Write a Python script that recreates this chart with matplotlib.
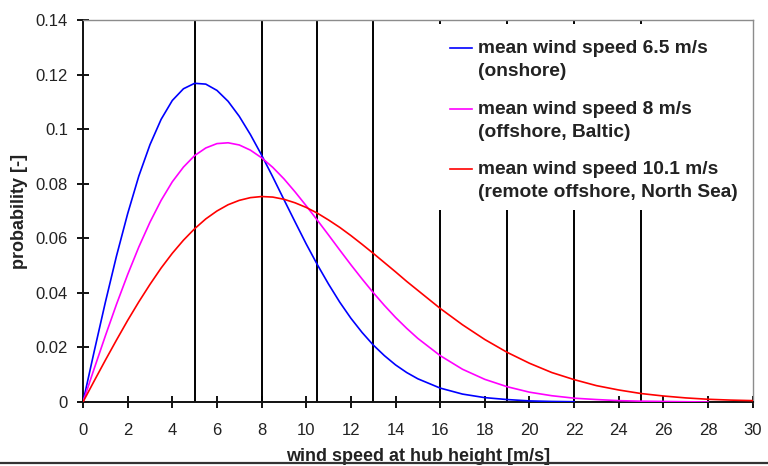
import numpy as np
import matplotlib
matplotlib.use("Agg")
import matplotlib.pyplot as plt
from matplotlib.lines import Line2D
from matplotlib.patches import Rectangle
from matplotlib.legend_handler import HandlerLine2D

plt.rcParams["font.family"] = ["Liberation Sans", "DejaVu Sans"]
plt.rcParams["font.size"] = 12

# wind speed [m/s]: 0.5 steps up to 14.5, then 1 m/s steps
speed_on = np.concatenate([np.arange(0, 15, 0.5), np.arange(15, 23)])
prob_on = [0, 0.0185, 0.0365, 0.0535, 0.0690, 0.0828, 0.0943, 0.1036, 0.1105, 0.1148,
           0.1168, 0.1165, 0.1142, 0.1102, 0.1047, 0.0980, 0.0905, 0.0825, 0.0742, 0.0660,
           0.0579, 0.0503, 0.0432, 0.0366, 0.0307, 0.0255, 0.0209, 0.0170, 0.0136, 0.0108,
           0.0085, 0.0051, 0.0029, 0.0016, 0.0009, 0.0004, 0.0002, 0.0001]

speed_baltic = np.concatenate([np.arange(0, 15, 0.5), np.arange(15, 29)])
prob_baltic = [0, 0.0122, 0.0242, 0.0358, 0.0467, 0.0568, 0.0659, 0.0739, 0.0807, 0.0861,
               0.0903, 0.0931, 0.0947, 0.0950, 0.0942, 0.0923, 0.0895, 0.0860, 0.0818, 0.0770,
               0.0719, 0.0666, 0.0612, 0.0557, 0.0503, 0.0451, 0.0401, 0.0354, 0.0310, 0.0270,
               0.0233, 0.0170, 0.0120, 0.0083, 0.0056, 0.0036, 0.0023, 0.0014, 0.0009,
               0.0005, 0.0003, 0.0002, 0.0001, 0.0]

speed_north = np.concatenate([np.arange(0, 15, 0.5), np.arange(15, 31)])
prob_north = [0, 0.0077, 0.0153, 0.0227, 0.0299, 0.0367, 0.0431, 0.0491, 0.0545, 0.0593,
              0.0635, 0.0671, 0.0700, 0.0723, 0.0739, 0.0749, 0.0753, 0.0751, 0.0743, 0.0730,
              0.0713, 0.0692, 0.0667, 0.0640, 0.0610, 0.0578, 0.0545, 0.0511, 0.0477, 0.0442,
              0.0409, 0.0343, 0.0283, 0.0229, 0.0182, 0.0142, 0.0108, 0.0082, 0.0060, 0.0044,
              0.0031, 0.0022, 0.0015, 0.0010, 0.0007, 0.0005]

labels = ["mean wind speed 6.5 m/s\n(onshore)",
          "mean wind speed 8 m/s\n(offshore, Baltic)",
          "mean wind speed 10.1 m/s\n(remote offshore, North Sea)"]
colors = ["#0000ff", "#ff00ff", "#ff0000"]

# vertical reference lines
marker_speeds = [5, 8, 10.5, 13, 16, 19, 22, 25]

xticks = np.arange(0, 31, 2)
yticks = [0, 0.02, 0.04, 0.06, 0.08, 0.1, 0.12, 0.14]
yticklabels = ["0", "0.02", "0.04", "0.06", "0.08", "0.1", "0.12", "0.14"]


def lift_handle(legline, orig):
    # put the legend line next to the first line of the two-line label
    legline.update_from(orig)
    legline.set_ydata(np.asarray(legline.get_ydata()) + 8.6)


fig = plt.figure(figsize=(7.68, 4.66), dpi=100)
ax = fig.add_axes([83/768, 1-402/466, 669.7/768, 382/466])

for v in marker_speeds:
    ax.axvline(v, color="black", lw=1.4, zorder=1)

# white box behind the legend hides the upper part of the lines
ax.add_patch(Rectangle((0.511, 0.503), 0.486, 0.487, transform=ax.transAxes,
                       facecolor="white", edgecolor="none", zorder=2))

ax.plot(speed_on, prob_on, color=colors[0], lw=1.2, label=labels[0], zorder=3)
ax.plot(speed_baltic, prob_baltic, color=colors[1], lw=1.2, label=labels[1], zorder=3)
ax.plot(speed_north, prob_north, color=colors[2], lw=1.2, label=labels[2], zorder=3)

ax.set_xlim(0, 30)
ax.set_ylim(0, 0.14)
ax.set_xticks(xticks)
ax.set_yticks(yticks)
ax.set_yticklabels(yticklabels)
ax.tick_params(direction="inout", length=8.6, width=1.3, colors="black", labelcolor="#222222")
ax.tick_params(axis="x", pad=11)
ax.tick_params(axis="y", pad=6.5)

for s in ["left", "bottom"]:
    ax.spines[s].set_linewidth(1.4)
    ax.spines[s].set_color("#111111")
for s in ["top", "right"]:
    ax.spines[s].set_linewidth(1.0)
    ax.spines[s].set_color("#8c8c8c")

ax.set_xlabel("wind speed at hub height [m/s]", fontsize=13, fontweight="bold",
              color="#222222", labelpad=7)
ax.set_ylabel("probability [-]", fontsize=13, fontweight="bold", color="#222222",
              labelpad=5.5)

leg = ax.legend(loc="upper left", bbox_to_anchor=(0.548, 0.947), frameon=False,
                borderpad=0, borderaxespad=0, handlelength=1.15, handletextpad=0.3,
                labelspacing=1.05, prop={"size": 13.8, "weight": "bold"},
                handler_map={Line2D: HandlerLine2D(update_func=lift_handle)})
leg.set_zorder(5)
for t in leg.get_texts():
    t.set_color("#222222")
    t.set_linespacing(1.48)

fig.add_artist(Line2D([0, 1], [1-462.5/466, 1-462.5/466], transform=fig.transFigure,
                      color="#333333", lw=1.6, zorder=10))

fig.savefig("out.png", dpi=100)
